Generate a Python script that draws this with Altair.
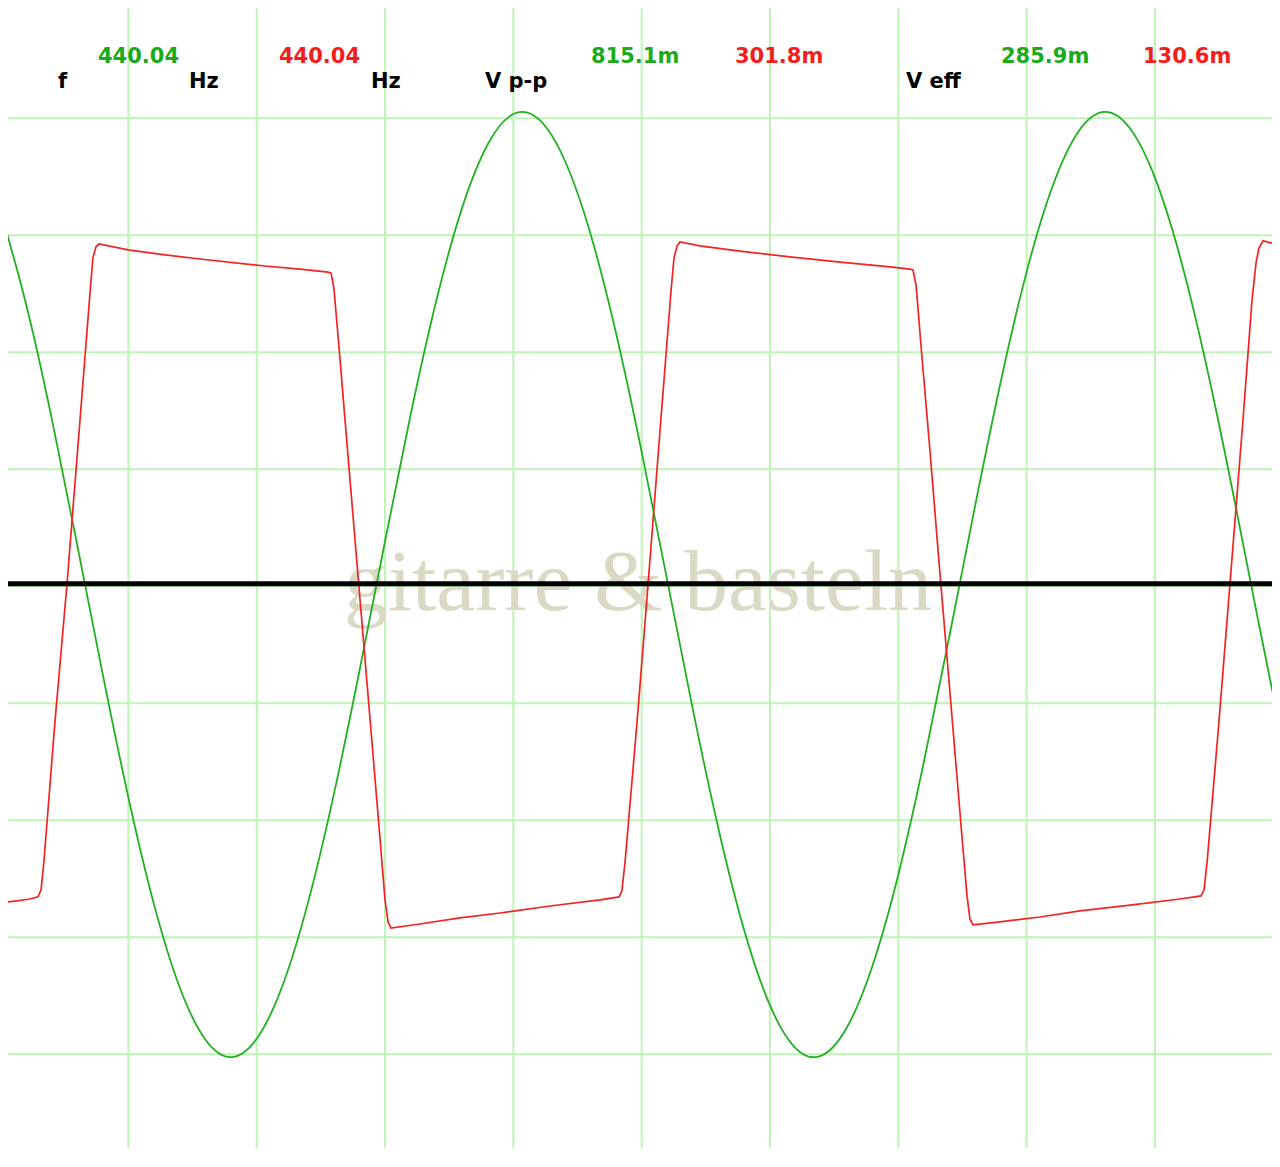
import altair as alt
import pandas as pd

# ---------------- data ----------------
# time in ms (0.5 ms / div), voltages in mV
GREEN_T = [0.0, 0.1, 0.2, 0.3, 0.4, 0.5, 0.6, 0.7, 0.8, 0.9,
           1.0, 1.1, 1.2, 1.3, 1.4, 1.5, 1.6, 1.7, 1.8, 1.9,
           2.0, 2.1, 2.2, 2.3, 2.4, 2.5, 2.6, 2.7, 2.8, 2.9,
           3.0, 3.1, 3.2, 3.3, 3.4, 3.5, 3.6, 3.7, 3.8, 3.9,
           4.0, 4.1, 4.2, 4.3, 4.4, 4.5, 4.6, 4.7, 4.8, 4.9, 5.0]
GREEN_MV = [320.6, 241.1, 143.5, 34.8, -76.4, -181.8, -273.4, -344.2, -388.9, -404.0,
            -388.3, -343.2, -271.9, -180.0, -74.4, 36.9, 145.3, 242.7, 321.7, 376.1,
            402.1, 397.5, 362.6, 300.2, 214.9, 113.3, 3.1, -107.4, -209.6, -295.9,
            -359.8, -396.4, -402.7, -378.4, -325.4, -247.8, -151.1, -43.0, 68.3, 174.4,
            267.4, 339.9, 386.6, 403.9, 390.6, 347.6, 278.0, 187.4, 82.5, -28.6, -137.6]

RED_T = [0.000, 0.058, 0.117, 0.148,
         0.160, 0.171, 0.214, 0.261, 0.312, 0.351, 0.362, 0.374, 0.386,
         0.499, 0.643, 0.779, 1.032, 1.169, 1.278, 1.290,
         1.301, 1.325, 1.352, 1.395, 1.442, 1.481, 1.500, 1.512, 1.523,
         1.636, 1.792, 1.948, 2.143, 2.338, 2.412,
         2.423, 2.435, 2.482, 2.525, 2.575, 2.614, 2.626, 2.638, 2.649,
         2.727, 2.883, 3.078, 3.273, 3.468, 3.545, 3.557,
         3.569, 3.592, 3.620, 3.662, 3.709, 3.748, 3.768, 3.779, 3.791,
         3.896, 4.052, 4.208, 4.403, 4.597, 4.679,
         4.691, 4.703, 4.749, 4.792, 4.843, 4.878, 4.894, 4.905, 4.921,
         4.948, 4.987]
RED_MV = [-136.1, -135.3, -134.4, -133.5,
          -130.5, -118.6, -58.8, 0.2, 70.7, 125.0, 139.6, 144.3, 145.5,
          143.0, 140.9, 139.1, 136.1, 134.8, 133.5, 133.1,
          126.7, 95.9, 60.0, 3.6, -57.9, -109.2, -134.8, -144.2, -146.8,
          -145.1, -142.5, -140.4, -137.4, -134.8, -133.5,
          -130.9, -118.9, -58.8, 0.2, 70.7, 125.0, 139.6, 144.7, 146.4,
          144.7, 142.5, 140.0, 137.8, 135.7, 134.8, 134.4,
          128.0, 97.2, 61.3, 4.9, -56.6, -107.9, -133.5, -142.9, -145.5,
          -144.2, -142.1, -139.5, -137.0, -134.4, -133.1,
          -130.5, -118.6, -58.8, 0.2, 70.7, 121.6, 137.8, 143.8, 146.9,
          146.0, 146.4]
assert len(RED_T) == len(RED_MV)
assert len(GREEN_T) == len(GREEN_MV)

GREEN_MV_PER_DIV = 100
RED_MV_PER_DIV = 50

GRID_T = [0.5, 1.0, 1.5, 2.0, 2.5, 3.0, 3.5, 4.0, 4.5]
GRID_DIV = [-4, -3, -2, -1, 0, 1, 2, 3, 4]

HEADER_TEXT = ["f", "440.04", "Hz", "440.04", "Hz", "V p-p",
               "815.1m", "301.8m", "V eff", "285.9m", "130.6m"]
HEADER_ROLE = ["label", "ch1", "label", "ch2", "label", "label",
               "ch1", "ch2", "label", "ch1", "ch2"]
WATERMARK = "gitarre & basteln"

# ---------------- layout / style ----------------
# plot area sits at page (8, 8); kept small enough that the page never scrolls
W, H = 1264, 1140
X_DOMAIN = [0.03117, 4.95578]
Y_DOMAIN = [-4.8009, 4.9427]
ZERO_DIV = 0.0154      # trace zero level (in divisions)
MARKER_DIV = 0.0214    # black zero marker line
GREEN = "#22b022"
RED = "#f52222"
GRID = "#bdf5b5"
ROLE_COLORS = {"label": "#000000", "ch1": "#1aab1a", "ch2": "#f51c1c"}
HEADER_X = [50, 90, 181, 271, 363, 477, 583, 727, 898, 993, 1135]
HEADER_Y = [80, 55, 80, 55, 80, 80, 55, 55, 80, 55, 55]

green_df = pd.DataFrame({"t": GREEN_T, "mv": GREEN_MV})
green_df["div"] = green_df["mv"] / GREEN_MV_PER_DIV + ZERO_DIV
red_df = pd.DataFrame({"t": RED_T, "mv": RED_MV})
red_df["div"] = red_df["mv"] / RED_MV_PER_DIV + ZERO_DIV

xscale = alt.Scale(domain=X_DOMAIN, nice=False, zero=False)
yscale = alt.Scale(domain=Y_DOMAIN, nice=False, zero=False)

vgrid = alt.Chart(pd.DataFrame({"t": GRID_T})).mark_rule(
    color=GRID, strokeWidth=2
).encode(x=alt.X("t:Q", scale=xscale, axis=None))

hgrid = alt.Chart(pd.DataFrame({"div": GRID_DIV})).mark_rule(
    color=GRID, strokeWidth=2
).encode(y=alt.Y("div:Q", scale=yscale, axis=None))

green_line = alt.Chart(green_df).mark_line(
    color=GREEN, strokeWidth=1.8, interpolate="natural", clip=True
).encode(
    x=alt.X("t:Q", scale=xscale, axis=None),
    y=alt.Y("div:Q", scale=yscale, axis=None),
)

red_line = alt.Chart(red_df).mark_line(
    color=RED, strokeWidth=1.7, clip=True
).encode(
    x=alt.X("t:Q", scale=xscale, axis=None),
    y=alt.Y("div:Q", scale=yscale, axis=None),
)

marker_df = pd.DataFrame({"level": [MARKER_DIV]})
zero_rule = alt.Chart(marker_df).mark_rule(color="#000000", strokeWidth=5).encode(
    y=alt.Y("level:Q", scale=yscale, axis=None)
)

wm_df = pd.DataFrame({"text": [WATERMARK]})
watermark = alt.Chart(wm_df).mark_text(
    font="Liberation Serif", fontSize=87.5, color="#d9d9c5", align="left",
    baseline="alphabetic"
).encode(
    text="text:N", x=alt.value(336), y=alt.value(602)
)

header_df = pd.DataFrame({
    "text": HEADER_TEXT,
    "role": HEADER_ROLE,
    "px": HEADER_X,
    "py": HEADER_Y,
})
header_df["color"] = header_df["role"].map(ROLE_COLORS)
header = alt.Chart(header_df).mark_text(
    font="DejaVu Sans", fontSize=21, fontWeight="bold", align="left",
    baseline="alphabetic"
).encode(
    text="text:N",
    x=alt.X("px:Q", scale=None, axis=None),
    y=alt.Y("py:Q", scale=None, axis=None),
    color=alt.Color("color:N", scale=None, legend=None),
)

chart = alt.layer(vgrid, hgrid, watermark, green_line, red_line, zero_rule, header).properties(
    width=W, height=H, padding=0,
    autosize=alt.AutoSizeParams(type="none"),
    background="white",
).configure_view(stroke=None)

chart.save("out.html", embed_options={"renderer": "svg", "actions": False})
